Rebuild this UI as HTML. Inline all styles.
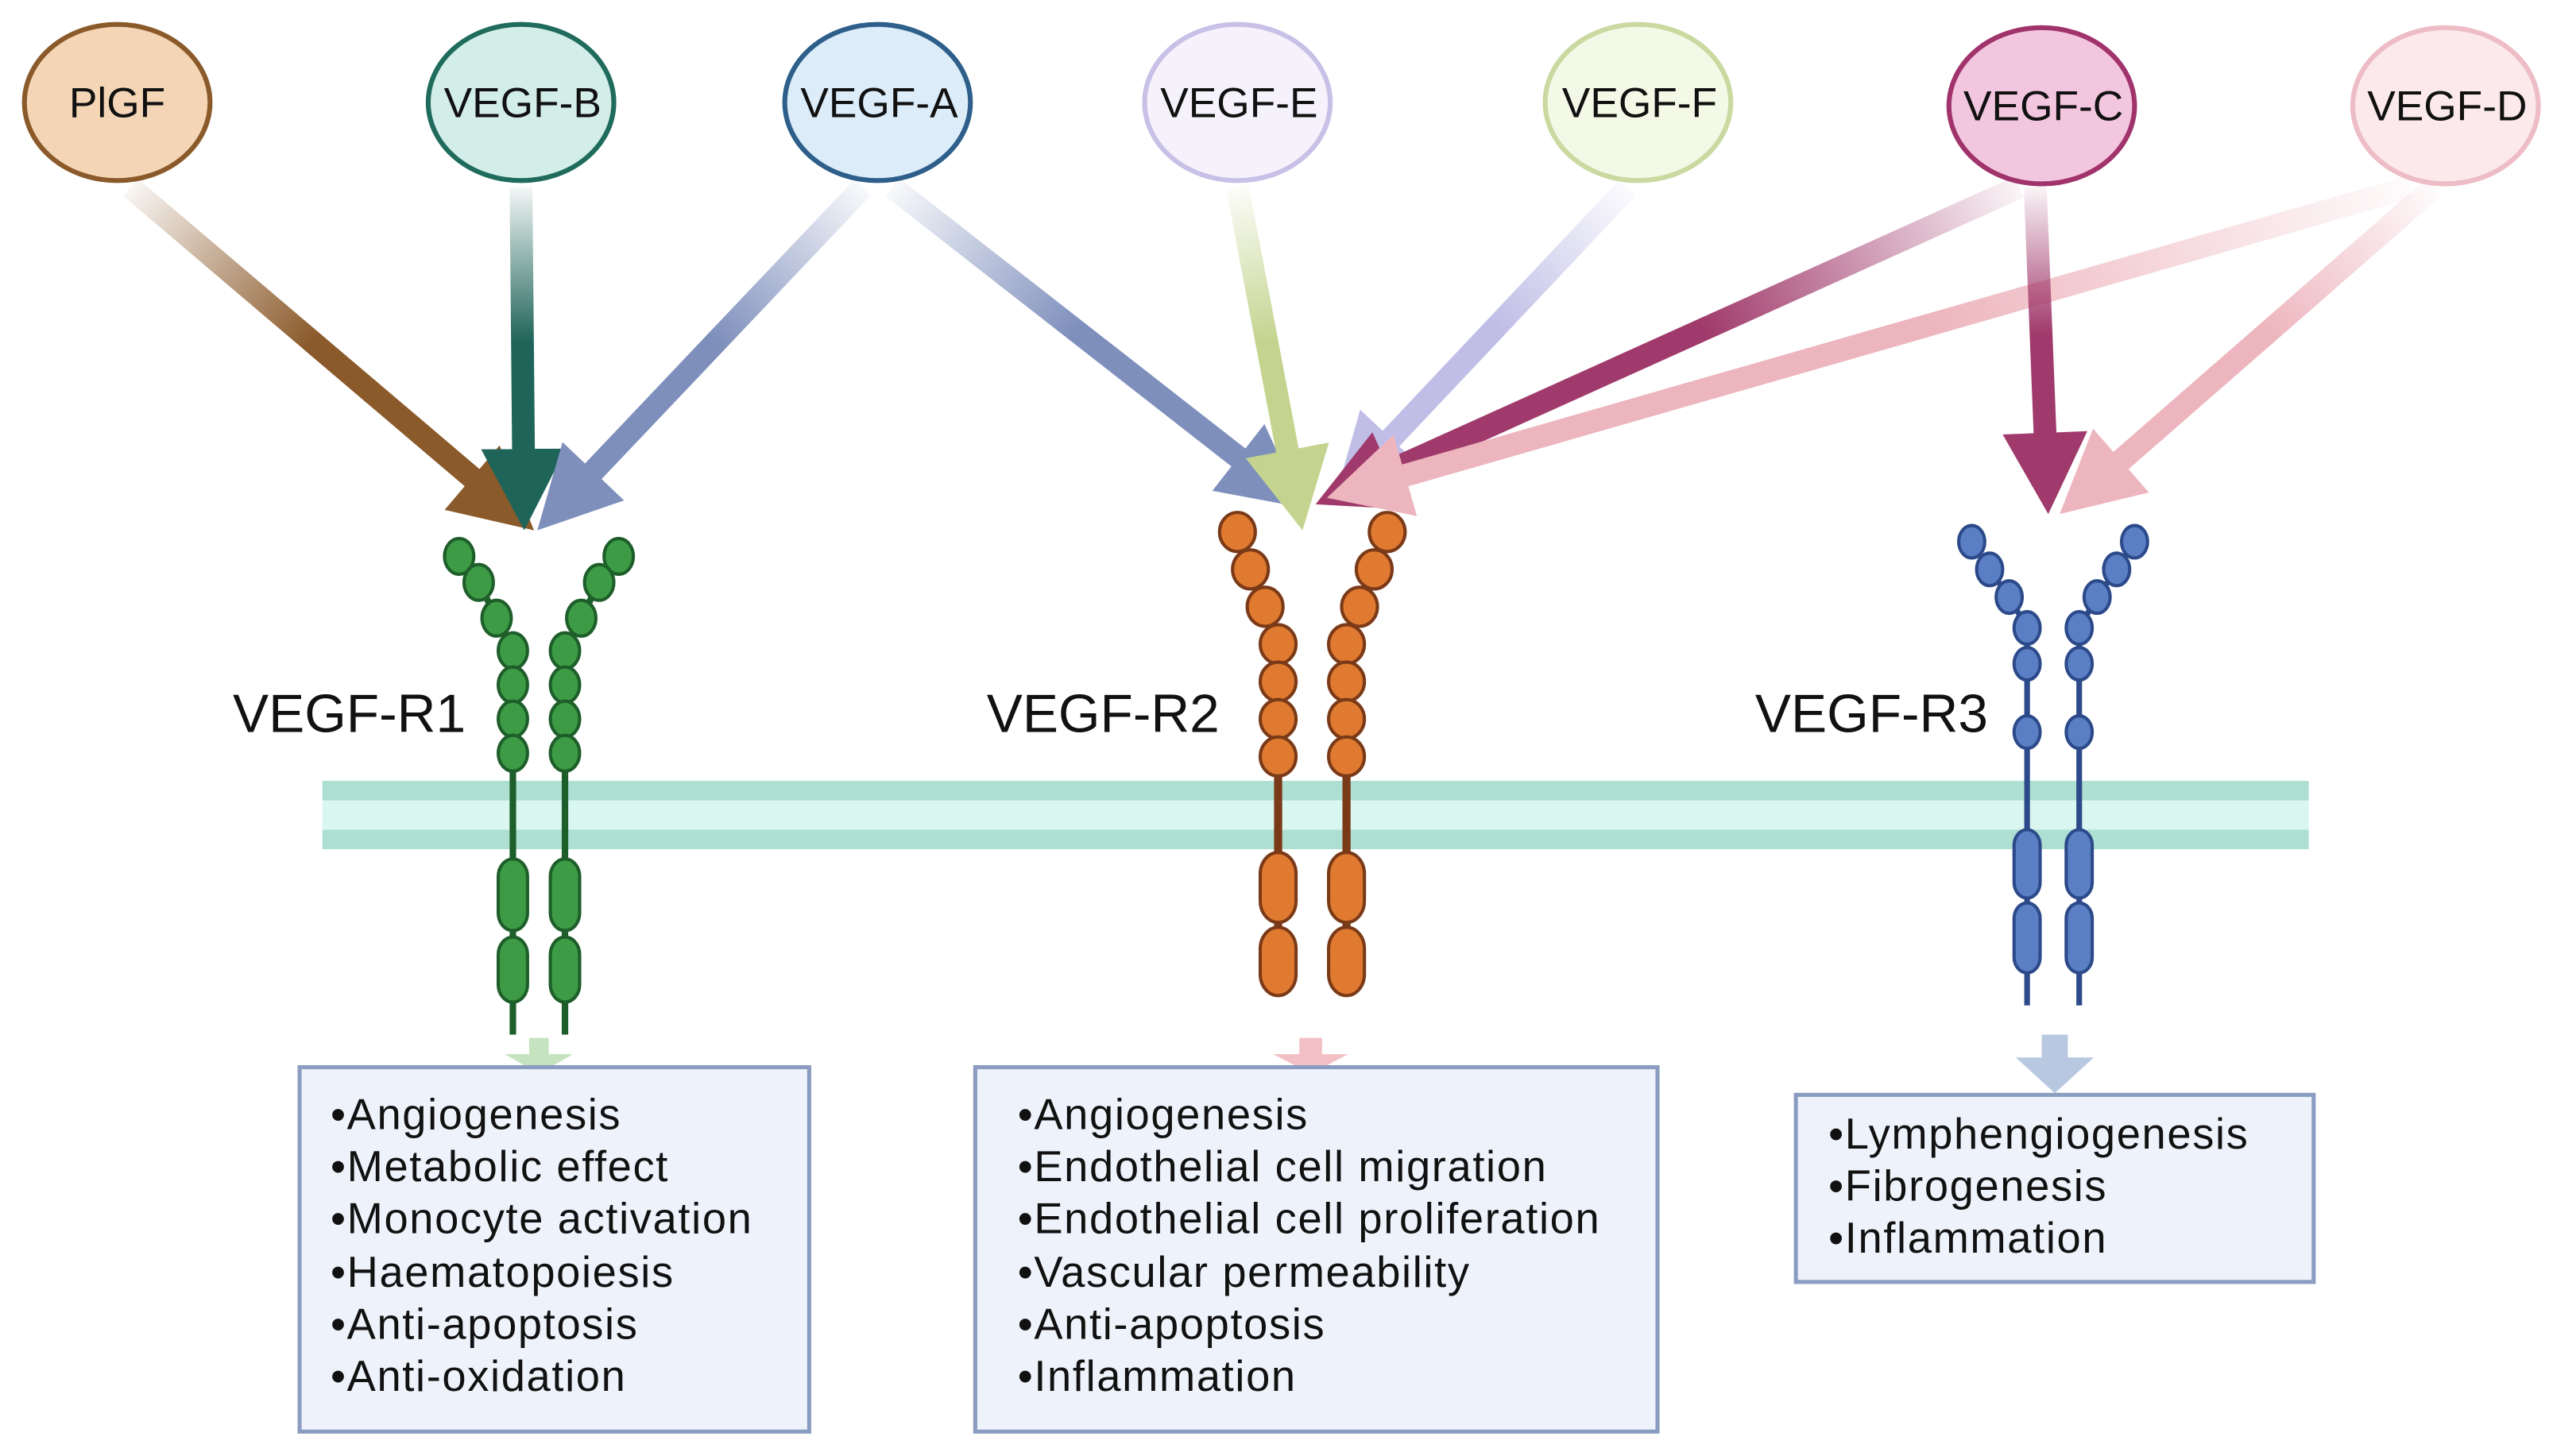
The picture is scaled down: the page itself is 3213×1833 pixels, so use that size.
<!DOCTYPE html>
<html><head><meta charset="utf-8">
<style>
html,body{margin:0;padding:0;background:#fff;}
svg{display:block;}
text{font-family:"Liberation Sans",sans-serif;}
</style></head>
<body>
<svg id="s" width="3213" height="1833" viewBox="0 0 1568 895" preserveAspectRatio="none" xmlns="http://www.w3.org/2000/svg">
<defs id="d"></defs>
<rect x="198" y="480" width="1220" height="42" fill="#d9f6f1"/>
<rect x="198" y="480" width="1220" height="12" fill="#aedfd3"/>
<rect x="198" y="510" width="1220" height="12" fill="#aedfd3"/>
<g id="arrows"></g>
<g id="rec"></g>
<g stroke-width="3">
<ellipse cx="72" cy="63" rx="57" ry="48" fill="#f4d6b6" stroke="#8b5a2b"/>
<ellipse cx="320" cy="63" rx="57" ry="48" fill="#d3ede8" stroke="#1f6b5c"/>
<ellipse cx="539" cy="63" rx="57" ry="48" fill="#dcecf9" stroke="#2d5f8a"/>
<ellipse cx="760" cy="63" rx="57" ry="48" fill="#f5f2fc" stroke="#c8c0e6"/>
<ellipse cx="1006" cy="63" rx="57" ry="48" fill="#f4f8e6" stroke="#c9d9a0"/>
<ellipse cx="1254" cy="65" rx="57" ry="48" fill="#f3c6df" stroke="#a0336b"/>
<ellipse cx="1502" cy="65" rx="57" ry="48" fill="#fbe9ec" stroke="#edbcc5"/>
</g>
<g font-size="26" text-anchor="middle" fill="#111">
<text x="72" y="72">PlGF</text>
<text x="321" y="72">VEGF-B</text>
<text x="540" y="72">VEGF-A</text>
<text x="761" y="72">VEGF-E</text>
<text x="1007" y="72">VEGF-F</text>
<text x="1255" y="74">VEGF-C</text>
<text x="1503" y="74">VEGF-D</text>
</g>
<g font-size="33" fill="#111">
<text x="143" y="450">VEGF-R1</text>
<text x="606" y="450">VEGF-R2</text>
<text x="1078" y="450">VEGF-R3</text>
</g>
<polygon points="325,638 337,638 337,648 352,648 331,660 310,648 325,648" fill="#c6e3c0"/>
<polygon points="798,638 812,638 812,648 828,648 805,660 782,648 798,648" fill="#f2c0c4"/>
<polygon points="1254,636 1270,636 1270,650 1286,650 1262,672 1238,650 1254,650" fill="#b8c8e0"/>
<g fill="#eef3fb" stroke="#8a9cc0" stroke-width="2.5">
<rect x="184" y="656" width="313" height="224"/>
<rect x="599" y="656" width="419" height="224"/>
<rect x="1103" y="673" width="318" height="115"/>
</g>
<g font-size="26.5" fill="#111" letter-spacing="0.8">
<text x="203" y="694">•Angiogenesis</text>
<text x="203" y="726">•Metabolic effect</text>
<text x="203" y="758">•Monocyte activation</text>
<text x="203" y="791">•Haematopoiesis</text>
<text x="203" y="823">•Anti-apoptosis</text>
<text x="203" y="855">•Anti-oxidation</text>
<text x="625" y="694">•Angiogenesis</text>
<text x="625" y="726">•Endothelial cell migration</text>
<text x="625" y="758">•Endothelial cell proliferation</text>
<text x="625" y="791">•Vascular permeability</text>
<text x="625" y="823">•Anti-apoptosis</text>
<text x="625" y="855">•Inflammation</text>
<text x="1123" y="706">•Lymphengiogenesis</text>
<text x="1123" y="738">•Fibrogenesis</text>
<text x="1123" y="770">•Inflammation</text>
</g>
</svg>
<script>
var NS="http://www.w3.org/2000/svg";
var defs=document.getElementById('d'),ag=document.getElementById('arrows'),rg=document.getElementById('rec');
function el(t,a,p){var e=document.createElementNS(NS,t);for(var k in a)e.setAttribute(k,a[k]);(p||ag).appendChild(e);return e;}
var n=0;
function arrow(x1,y1,x2,y2,c){
 n++;var id='g'+n;
 var g=el('linearGradient',{id:id,gradientUnits:'userSpaceOnUse',x1:x1,y1:y1,x2:x2,y2:y2},defs);
 el('stop',{offset:'0','stop-color':c,'stop-opacity':'0.05'},g);
 el('stop',{offset:'0.45','stop-color':c,'stop-opacity':'1'},g);
 el('stop',{offset:'1','stop-color':c,'stop-opacity':'1'},g);
 var dx=x2-x1,dy=y2-y1,L=Math.sqrt(dx*dx+dy*dy),ux=dx/L,uy=dy/L,px=-uy,py=ux;
 var w=7,hw=26,hl=50;
 var bx=x2-ux*hl,by=y2-uy*hl;
 var pts=[[x1+px*w,y1+py*w],[bx+px*w,by+py*w],[bx+px*hw,by+py*hw],[x2,y2],[bx-px*hw,by-py*hw],[bx-px*w,by-py*w],[x1-px*w,y1-py*w]];
 el('polygon',{points:pts.map(function(p){return p[0].toFixed(1)+','+p[1].toFixed(1)}).join(' '),fill:'url(#'+id+')'});
}
arrow(80,115,328,326,'#8b5a2b');
arrow(320,115,322,326,'#1f6459');
arrow(530,115,330,326,'#7e8fbc');
arrow(548,115,800,312,'#7e8fbc');
arrow(1000,115,820,306,'#c0bee6');
arrow(1240,115,808,310,'#a03a6c');
arrow(1480,115,815,306,'#edb5bd');
arrow(760,115,800,326,'#c4d48f');
arrow(1250,115,1258,316,'#a03a6c');
arrow(1495,115,1265,316,'#edb5bd');

function receptor(fill,stroke,beadsL,cx,rx,ry,stem0,caps,tailEnd,lw){
 [1,-1].forEach(function(s){
  var beads=beadsL.map(function(b){return [cx+s*(b[0]-cx),b[1]];});
  var xs=beads[beads.length-1][0];
  el('line',{x1:xs,y1:stem0,x2:xs,y2:tailEnd,stroke:stroke,'stroke-width':lw},rg);
  var pl=beads.map(function(b){return b[0]+','+b[1]}).join(' ');
  el('polyline',{points:pl,fill:'none',stroke:stroke,'stroke-width':lw},rg);
  beads.forEach(function(b){el('ellipse',{cx:b[0],cy:b[1],rx:rx,ry:ry,fill:fill,stroke:stroke,'stroke-width':2},rg);});
  caps.forEach(function(c){el('rect',{x:xs-rx,y:c[0],width:2*rx,height:c[1]-c[0],rx:rx,ry:rx*1.2,fill:fill,stroke:stroke,'stroke-width':2},rg);});
 });
}
receptor('#3d9b45','#1e5e2a',[[282,342],[294,358],[305,380],[315,400],[315,421],[315,442],[315,463]],331,9,11,470,[[528,572],[576,616]],636,4);
receptor('#e07a30','#7a3a18',[[760,327],[768,350],[777,373],[785,396],[785,419],[785,442],[785,465]],806,11,12,475,[[524,567],[570,612]],612,5);
receptor('#5b7fc4','#2c4a8a',[[1211,333],[1222,350],[1234,367],[1245,386],[1245,408],[1245,450]],1261,8,10,455,[[510,552],[555,598]],618,3.5);
</script>
</body></html>
